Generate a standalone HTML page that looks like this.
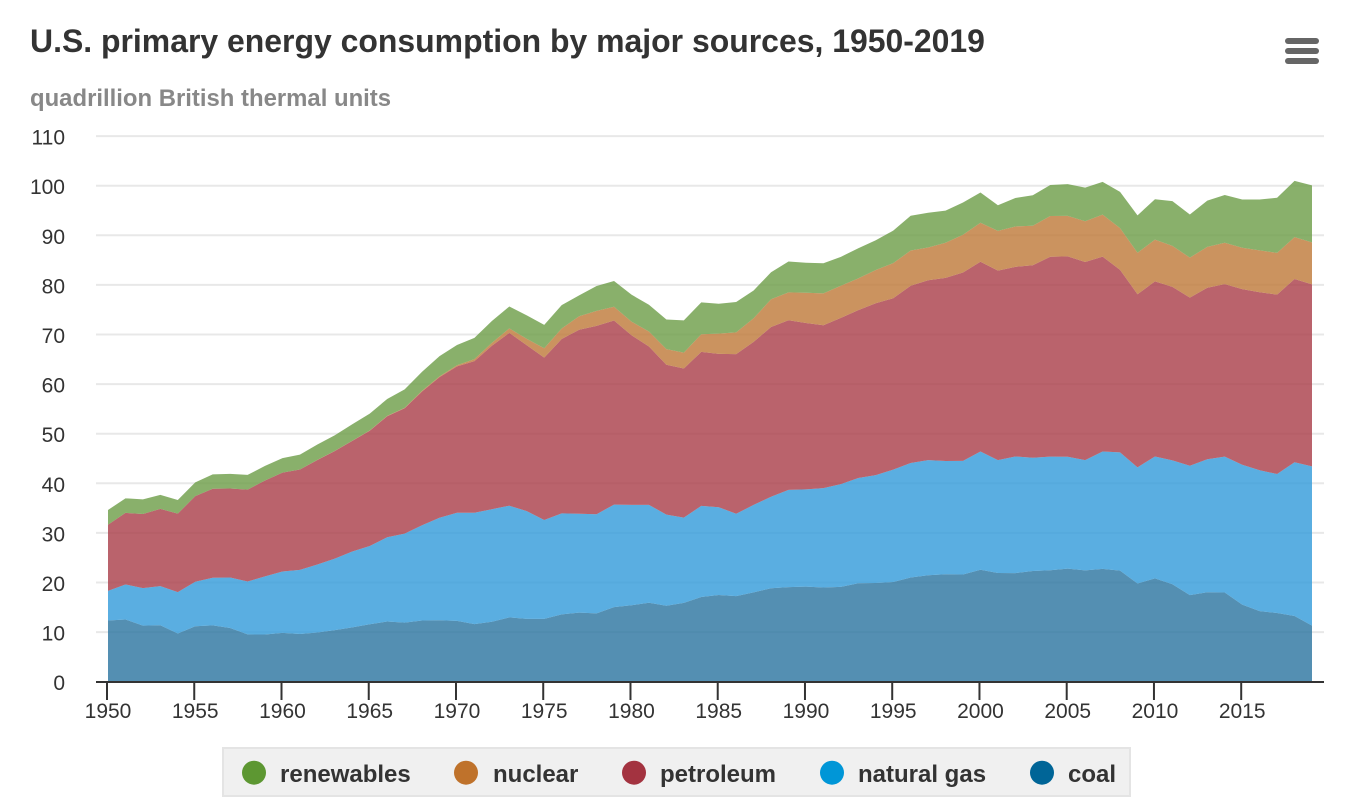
<!DOCTYPE html>
<html lang="en">
<head>
<meta charset="utf-8">
<title>U.S. primary energy consumption by major sources, 1950-2019</title>
<style>
html,body{margin:0;padding:0;background:#fff;}
svg{display:block;font-family:"Liberation Sans",Arial,sans-serif;}
</style>
</head>
<body>
<svg id="chart" width="1362" height="810" viewBox="0 0 1362 810" xmlns="http://www.w3.org/2000/svg">
  <rect x="0" y="0" width="1362" height="810" fill="#ffffff"/>
  <text x="30" y="52" font-size="31.95" font-weight="700" fill="#333333">U.S. primary energy consumption by major sources, 1950-2019</text>
  <text x="30" y="106" font-size="23.9" font-weight="700" fill="#888888">quadrillion British thermal units</text>
  <g id="grid"></g>
  <g id="areas"></g>
  <g id="xaxis"></g>
  <g id="yaxis"></g>
  <g>
    <rect x="1285" y="38" width="34" height="6" rx="3" fill="#666666"/>
    <rect x="1285" y="48" width="34" height="6" rx="3" fill="#666666"/>
    <rect x="1285" y="58" width="34" height="6" rx="3" fill="#666666"/>
  </g>
  <g>
    <rect x="223" y="748" width="907" height="48" fill="#f0f0f0" stroke="#e4e4e4" stroke-width="2"/>
    <g>
      <circle cx="254" cy="772.7" r="12" fill="#5d9732"/>
      <text x="280" y="782" font-size="24" font-weight="700" fill="#333333">renewables</text>
    </g>
    <g>
      <circle cx="466" cy="772.7" r="12" fill="#bf722b"/>
      <text x="493" y="782" font-size="24" font-weight="700" fill="#333333">nuclear</text>
    </g>
    <g>
      <circle cx="634" cy="772.7" r="12" fill="#a33340"/>
      <text x="660" y="782" font-size="24" font-weight="700" fill="#333333">petroleum</text>
    </g>
    <g>
      <circle cx="832" cy="772.7" r="12" fill="#0096d7"/>
      <text x="858" y="782" font-size="24" font-weight="700" fill="#333333">natural gas</text>
    </g>
    <g>
      <circle cx="1042" cy="772.7" r="12" fill="#006597"/>
      <text x="1068" y="782" font-size="24" font-weight="700" fill="#333333">coal</text>
    </g>
  </g>
</svg>
<script>
const years = [1950,1951,1952,1953,1954,1955,1956,1957,1958,1959,1960,1961,1962,1963,1964,1965,1966,1967,1968,1969,1970,1971,1972,1973,1974,1975,1976,1977,1978,1979,1980,1981,1982,1983,1984,1985,1986,1987,1988,1989,1990,1991,1992,1993,1994,1995,1996,1997,1998,1999,2000,2001,2002,2003,2004,2005,2006,2007,2008,2009,2010,2011,2012,2013,2014,2015,2016,2017,2018,2019];
const coal = [12.35,12.55,11.31,11.37,9.72,11.17,11.35,10.82,9.53,9.52,9.84,9.62,9.91,10.41,10.96,11.58,12.14,11.91,12.33,12.38,12.26,11.6,12.08,12.97,12.66,12.66,13.58,13.92,13.77,15.04,15.42,15.91,15.32,15.89,17.07,17.48,17.26,18.01,18.85,19.07,19.17,18.99,19.12,19.84,19.91,20.09,21,21.45,21.66,21.62,22.58,21.91,21.9,22.32,22.47,22.8,22.45,22.75,22.39,19.8,20.83,19.66,17.45,18.04,17.99,15.55,14.23,13.84,13.24,11.31];
const naturalGas = [5.97,7.05,7.55,7.91,8.33,8.99,9.61,10.19,10.66,11.72,12.39,12.93,13.73,14.4,15.29,15.77,16.99,17.94,19.21,20.68,21.79,22.47,22.7,22.51,21.73,19.95,20.35,19.93,20,20.67,20.24,19.75,18.36,17.2,18.38,17.7,16.59,17.63,18.44,19.6,19.6,20.03,20.71,21.23,21.73,22.67,23.08,23.22,22.83,22.91,23.82,22.77,23.51,22.83,22.91,22.56,22.22,23.66,23.84,23.42,24.57,24.95,26.09,26.81,27.38,28.19,28.4,28.03,31,32.1];
const petroleum = [13.32,14.43,14.96,15.56,15.84,17.25,17.94,17.93,18.53,19.32,19.92,20.22,21.05,21.7,22.3,23.25,24.4,25.28,26.98,28.34,29.52,30.56,32.95,34.84,33.45,32.73,35.17,37.12,37.97,37.12,34.2,31.93,30.23,30.05,31.05,30.92,32.2,32.87,34.22,34.21,33.55,32.85,33.53,33.84,34.67,34.55,35.76,36.27,36.93,37.96,38.26,38.19,38.23,38.81,40.29,40.39,39.96,39.3,36.8,34.9,35.3,35,33.9,34.58,34.79,35.4,35.9,36.17,36.95,36.7];
const nuclear = [0,0,0,0,0,0,0,0,0.002,0.002,0.006,0.02,0.026,0.038,0.04,0.043,0.064,0.088,0.142,0.154,0.239,0.413,0.584,0.91,1.272,1.9,2.111,2.702,3.024,2.776,2.739,3.008,3.131,3.203,3.553,4.076,4.38,4.754,5.587,5.602,6.104,6.422,6.479,6.41,6.694,7.075,7.087,6.597,7.068,7.61,7.862,8.029,8.145,7.96,8.222,8.161,8.215,8.459,8.426,8.355,8.434,8.269,8.062,8.244,8.338,8.337,8.427,8.419,8.441,8.46];
const renewables = [2.98,2.94,2.95,2.83,2.75,2.78,2.89,2.96,2.98,2.94,2.93,2.98,3.11,3.15,3.32,3.4,3.41,3.72,3.82,4.08,4.08,4.27,4.4,4.41,4.74,4.69,4.7,4.21,5.01,5.17,5.43,5.41,5.98,6.5,6.43,6.03,6.13,5.61,5.46,6.24,6.04,6.07,5.82,6.08,5.99,6.56,7.01,7.02,6.49,6.51,6.1,5.16,5.73,6.15,6.25,6.41,6.77,6.6,7.3,7.55,8.14,9.02,8.7,9.31,9.64,9.75,10.25,11.1,11.35,11.5];
const yTickLabels = [0,10,20,30,40,50,60,70,80,90,100,110];
const xTickLabels = [1950,1955,1960,1965,1970,1975,1980,1985,1990,1995,2000,2005,2010,2015];

const NS = 'http://www.w3.org/2000/svg';
function xScale(year){ return 108 + (year - 1950) * (1312 - 108) / 69; }
function yScale(value){ return 681.7 - value * 4.96; }
function make(tag, attrs){
  const el = document.createElementNS(NS, tag);
  for (const k in attrs) el.setAttribute(k, attrs[k]);
  return el;
}

const gridG = document.getElementById('grid');
const yG = document.getElementById('yaxis');
yTickLabels.forEach(function(v){
  const y = yScale(v);
  if (v > 0) {
    const line = make('line', {x1:96, x2:1324, y1:y, y2:y, stroke:'#e8e8e8', 'stroke-width':2});
    
    
    gridG.appendChild(line);
  }
  const t = make('text', {x:65, y:y + 8.5, 'text-anchor':'end', 'font-size':21, fill:'#333333'});
  
  
  t.textContent = v;
  yG.appendChild(t);
});

const seriesList = [
  {key:'coal', values:coal, color:'rgb(41,115,159)'},
  {key:'natural-gas', values:naturalGas, color:'rgb(49,154,217)'},
  {key:'petroleum', values:petroleum, color:'rgb(169,60,71)'},
  {key:'nuclear', values:nuclear, color:'rgb(190,120,55)'},
  {key:'renewables', values:renewables, color:'rgb(107,156,70)'}
];
const areasG = document.getElementById('areas');
let baseline = years.map(function(){ return 0; });
seriesList.forEach(function(s){
  const top = baseline.map(function(b, i){ return b + s.values[i]; });
  const upper = years.map(function(yr, i){ return xScale(yr).toFixed(2) + ',' + yScale(top[i]).toFixed(2); });
  const lower = years.map(function(yr, i){ return xScale(yr).toFixed(2) + ',' + yScale(baseline[i]).toFixed(2); }).reverse();
  const area = make('polygon', {points: upper.concat(lower).join(' '), fill:s.color, 'fill-opacity':0.8});
  
  
  areasG.appendChild(area);
  baseline = top;
});

const xG = document.getElementById('xaxis');
const axisLine = make('line', {x1:96, x2:1324, y1:682, y2:682, stroke:'#333333', 'stroke-width':2});


xG.appendChild(axisLine);
xTickLabels.forEach(function(yr){
  const x = xScale(yr) - 1;
  const tick = make('line', {x1:x, x2:x, y1:682, y2:700, stroke:'#333333', 'stroke-width':2});
  
  
  xG.appendChild(tick);
  const t = make('text', {x:x + 1, y:718, 'text-anchor':'middle', 'font-size':21, fill:'#333333'});
  
  
  t.textContent = yr;
  xG.appendChild(t);
});
</script>
</body>
</html>
